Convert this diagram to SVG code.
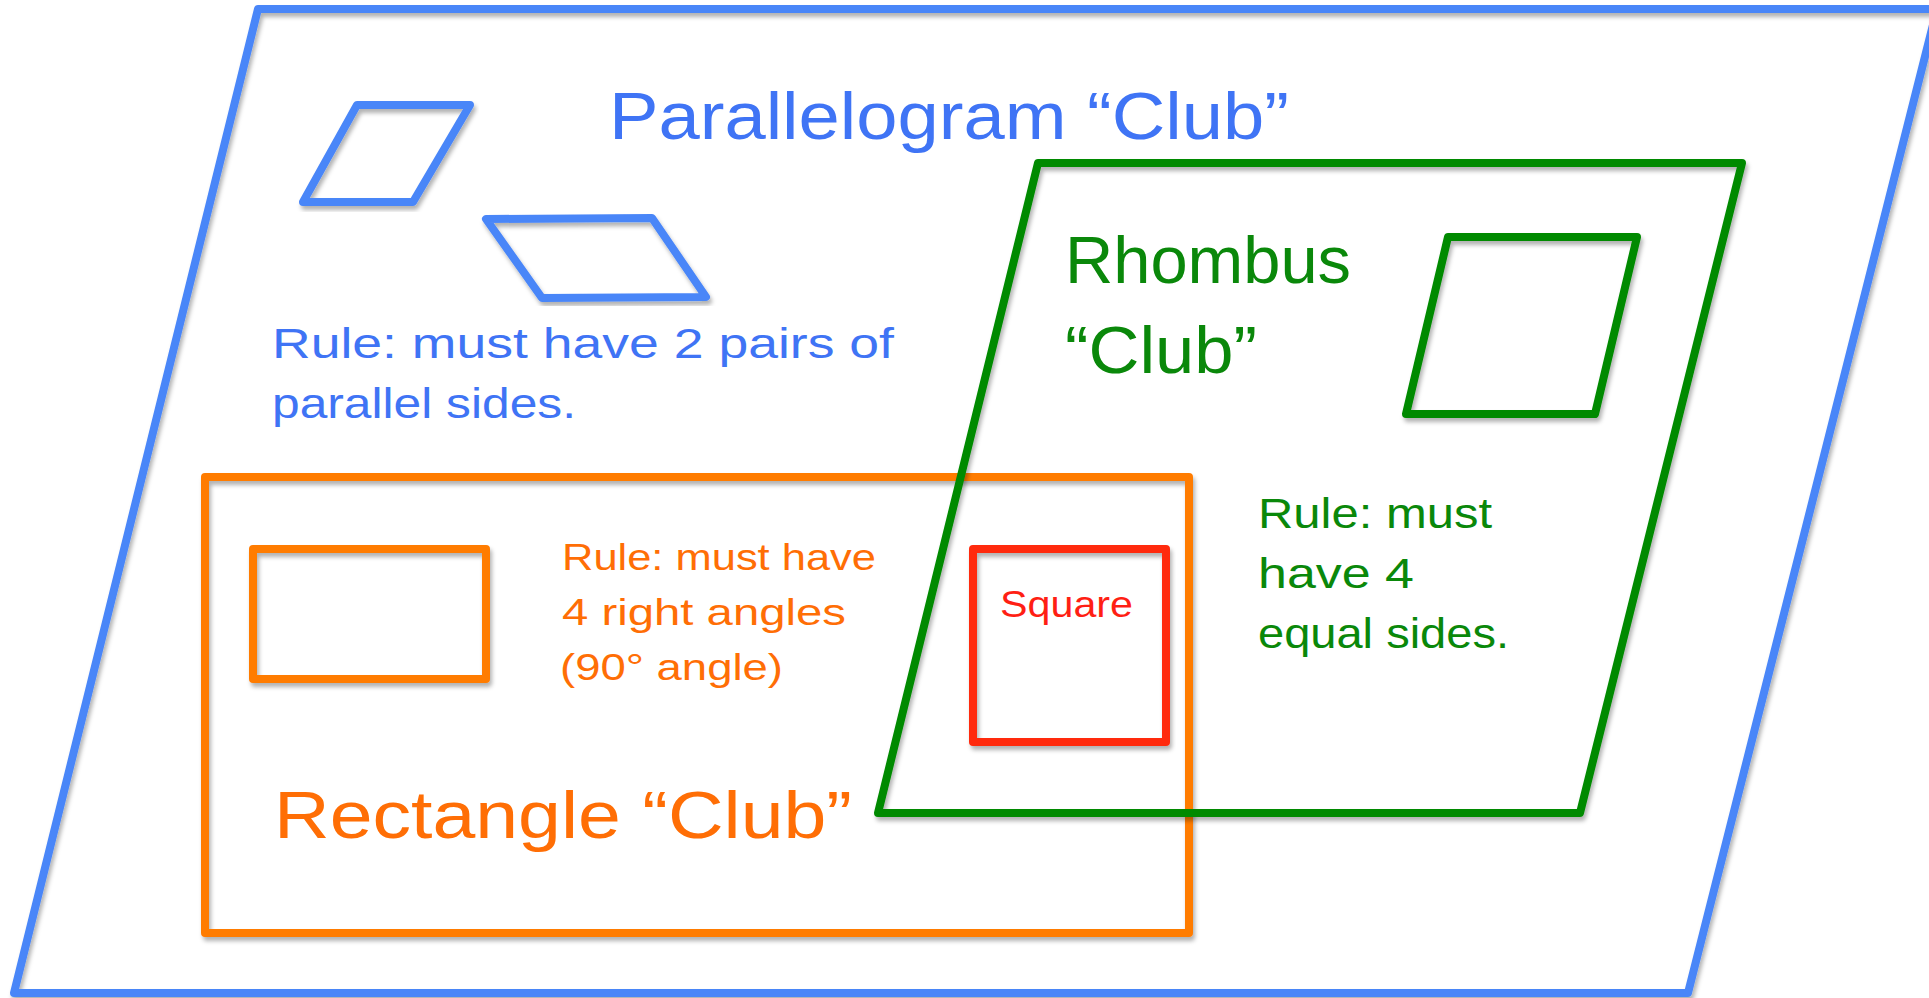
<svg xmlns="http://www.w3.org/2000/svg" width="1929" height="998" viewBox="0 0 1929 998">
<defs>
<filter id="sh" x="-5%" y="-5%" width="110%" height="115%">
<feDropShadow dx="2" dy="4" stdDeviation="2" flood-color="#000" flood-opacity="0.3"/>
</filter>
<style>
.s{fill:none;stroke-width:8;stroke-linejoin:round;stroke-linecap:round;filter:url(#sh)}
.blue{stroke:#4a86f8}
.green{stroke:#008a00}
.orange{stroke:#ff7b00}
.red{stroke:#ff2a0a}
text{font-family:"Liberation Sans",Arial,sans-serif;font-weight:normal}
.big{font-size:66px}
.mid{font-size:42px}
.sm{font-size:36px}
.tb{fill:#3f74f5}
.tg{fill:#0a880a}
.to{fill:#ff6e05}
.tr{fill:#ff1f14}
</style>
</defs>
<rect width="1929" height="998" fill="#fff"/>
<g id="parallelogram-club">
<polygon class="s blue" points="258,9 1937,9 1688,993 14,993"/>
<polygon class="s blue" points="357,105 470,105 413,202 303,202"/>
<polygon class="s blue" points="486,219 652,218 706,297 542,298"/>
<text class="big tb" x="609" y="139" textLength="680" lengthAdjust="spacingAndGlyphs">Parallelogram “Club”</text>
<text class="mid tb" x="272" y="358" textLength="622" lengthAdjust="spacingAndGlyphs">Rule: must have 2 pairs of</text>
<text class="mid tb" x="272" y="418" textLength="304" lengthAdjust="spacingAndGlyphs">parallel sides.</text>
</g>
<g id="rectangle-club">
<rect class="s orange" x="205" y="477" width="984" height="456"/>
<rect class="s orange" x="253" y="549" width="233" height="130"/>
<text class="sm to" x="562" y="570" textLength="314" lengthAdjust="spacingAndGlyphs">Rule: must have</text>
<text class="sm to" x="562" y="625" textLength="284" lengthAdjust="spacingAndGlyphs">4 right angles</text>
<text class="sm to" x="560" y="680" textLength="223" lengthAdjust="spacingAndGlyphs">(90° angle)</text>
<text class="big to" x="274" y="838" textLength="578" lengthAdjust="spacingAndGlyphs">Rectangle “Club”</text>
</g>
<g id="rhombus-club">
<polygon class="s green" points="1038,163 1742,163 1580,813 878,813"/>
<polygon class="s green" points="1448,237 1637,237 1595,414 1406,414"/>
<text class="big tg" x="1065" y="283" textLength="286" lengthAdjust="spacingAndGlyphs">Rhombus</text>
<text class="big tg" x="1065" y="373" textLength="192" lengthAdjust="spacingAndGlyphs">“Club”</text>
<text class="mid tg" x="1258" y="528" textLength="234" lengthAdjust="spacingAndGlyphs">Rule: must</text>
<text class="mid tg" x="1258" y="588" textLength="156" lengthAdjust="spacingAndGlyphs">have 4</text>
<text class="mid tg" x="1258" y="648" textLength="251" lengthAdjust="spacingAndGlyphs">equal sides.</text>
</g>
<g id="square">
<rect class="s red" x="973" y="549" width="193" height="193"/>
<text class="sm tr" x="1000" y="617" textLength="133" lengthAdjust="spacingAndGlyphs">Square</text>
</g>
<g id="connectors"/>
</svg>
